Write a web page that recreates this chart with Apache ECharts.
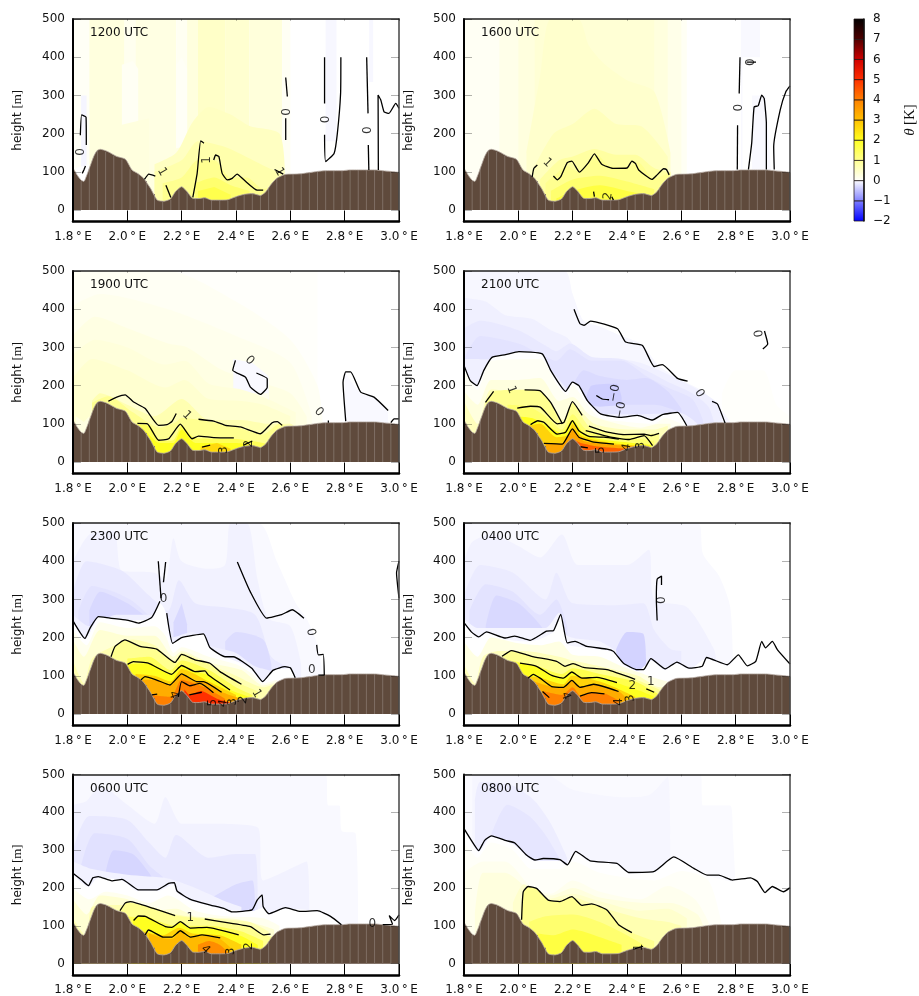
<!DOCTYPE html>
<html><head><meta charset="utf-8">
<script src="https://cdn.jsdelivr.net/npm/echarts@6/dist/echarts.min.js"></script>
<style>html,body{margin:0;padding:0;background:#fff}#c{width:919px;height:996px}</style>
</head><body><div id="c"></div>
<script>
const lonTicks=[1.8,2.0,2.2,2.4,2.6,2.8,3.0];
const heightTicks=[0,100,200,300,400,500];
const thetaTicks=[-2,-1,0,1,2,3,4,5,6,7,8];
const thetaColors=['#0000ff','#8080ff','#ffffff','#ffff90','#ffff20','#ffc000','#ff8000','#ff3000','#d00000','#500000','#000000'];
const stripeLon=[1.80,1.83,1.86,1.89,1.92,1.95,1.98,2.01,2.04,2.07,2.10,2.13,2.16,2.19,2.22,2.25,2.28,2.31,2.34,2.37,2.40,2.43,2.46,2.49,2.52,2.55,2.58,2.61,2.64,2.67,2.70,2.73,2.76,2.79,2.82,2.85,2.88,2.91,2.94,2.97,3.00];
const stripeH=[108,76,108,155,152,142,132,107,94,76,42,22,26,54,46,29,30,25,25,25,34,40,42,37,55,81,91,93,94,97,100,102,102,102,104,104,104,104,102,100,98];
const terrainLon=[1.8,1.815,1.83,1.84,1.85,1.858,1.876,1.888,1.9,1.925,1.962,1.993,2.017,2.04,2.06,2.085,2.11,2.134,2.159,2.177,2.2,2.22,2.24,2.26,2.285,2.31,2.34,2.37,2.4,2.43,2.46,2.49,2.51,2.53,2.55,2.58,2.61,2.64,2.67,2.7,2.73,2.76,2.79,2.82,2.85,2.88,2.91,2.94,2.97,3];
const terrainH=[110,92,78,75,90,105,140,155,159,154,140,133,105,95,83,57,26,23,29,48,61,48,31,30,32,26,26,27,35,41,43,38,48,68,83,93,94,95,98,101,103,103,103,105,105,105,105,103,101,99];

const bands1200=[[0.08,[[1.8,500],[1.86,500]]],[0.3,[[1.86,500],[1.99,500]]],[0.14,[[1.99,500],[2.03,500]]],[0.25,[[2.03,500],[2.18,500]]],[0.12,[[2.18,500],[2.22,500]]],[0.3,[[2.22,500],[2.26,500]]],[0.5,[[2.26,500],[2.36,500]]],[0.42,[[2.36,500],[2.45,500]]],[0.32,[[2.45,500],[2.57,500]]],[0.1,[[2.57,500],[2.6,500]]],
[0.1,[[1.98,380],[2.02,390],[2.04,370]]],[0.3,[[1.96,220],[2.08,240]]],[0.08,[[2.18,380],[2.2,400],[2.22,370]]],[0.25,[[2.17,160],[2.23,170]]],
[-0.08,[[1.83,300],[1.85,300]]],[0,[[1.81,110],[1.84,115],[1.86,120]]],[-0.06,[[2.73,500],[2.77,500]]],[0,[[2.72,180],[2.79,180]]],[-0.06,[[2.89,500],[2.905,500]]],[0,[[2.885,335],[2.91,335]]],
[0.55,[[2.1,120],[2.18,150],[2.24,230],[2.3,270],[2.38,250],[2.45,220],[2.56,200],[2.58,100]]],[0.75,[[2.1,100],[2.2,130],[2.26,180],[2.36,165],[2.45,135],[2.52,110],[2.57,95]]],[1,[[2.13,70],[2.2,85],[2.26,130],[2.32,130],[2.38,85],[2.44,85],[2.5,55],[2.54,60]]],[1.3,[[2.25,70],[2.32,85],[2.38,65],[2.45,50]]],[1.6,[[2.26,50],[2.32,60],[2.38,40]]]];
const lines1200=[[[1.827,196],[1.832,249],[1.848,243],[1.849,170]],[[1.846,115],[1.84,105],[1.834,96]],[[2.063,80],[2.079,94],[2.103,89]],[[2.142,65],[2.16,33]],[[2.241,33],[2.257,96],[2.27,181],[2.282,175]],[[2.318,131],[2.325,144],[2.337,140],[2.349,96],[2.368,79],[2.386,83],[2.404,94],[2.429,79],[2.478,52],[2.5,52]],[[2.542,106],[2.574,94]],[[2.583,347],[2.589,297]],[[2.583,240],[2.583,183]],[[2.726,400],[2.726,279]],[[2.726,197],[2.73,127],[2.761,148],[2.773,200],[2.785,305],[2.786,400]],[[2.881,400],[2.886,253]],[[2.887,170],[2.889,105]],[[2.924,105],[2.923,301],[2.933,288],[2.945,257],[2.963,253],[2.988,279],[3,266]]];
const labels1200=[['0',1.83,152,90],['1',2.128,100,-60],['1',2.294,131,90],['1',2.56,100,-60],['0',2.589,257,90],['0',2.73,237,90],['0',2.886,209,90]];

const bands1600=[[0.1,[[1.8,500],[2.62,500]]],[0.2,[[1.93,500],[2.6,500]]],[0.3,[[2.0,500],[2.55,500]]],[0.38,[[2.06,500],[2.5,500]]],[0.45,[[2.03,150],[2.08,350],[2.12,500],[2.22,500],[2.26,430],[2.32,380],[2.4,340],[2.5,310],[2.56,150]]],[0.6,[[2.05,100],[2.13,200],[2.2,225],[2.28,265],[2.36,225],[2.45,220],[2.55,140]]],[0.85,[[2.08,80],[2.15,130],[2.2,140],[2.28,160],[2.36,145],[2.43,145],[2.5,110],[2.55,100]]],[1,[[2.1,70],[2.14,95],[2.18,115],[2.22,100],[2.29,145],[2.33,118],[2.4,110],[2.44,125],[2.5,82],[2.56,100]]],[1.3,[[2.12,50],[2.2,80],[2.3,90],[2.4,75],[2.5,55]]],[1.7,[[2.14,30],[2.2,50],[2.3,65],[2.4,50],[2.47,40]]],
[-0.05,[[2.82,500],[2.89,500]]],[0,[[2.825,400],[2.89,400]]],[-0.05,[[2.86,300],[2.91,300],[2.93,100]]]];
const lines1600=[[[2.051,87],[2.057,109],[2.07,118]],[[2.129,89],[2.144,79],[2.156,87],[2.18,124],[2.197,128],[2.225,99],[2.258,124],[2.28,147],[2.307,120],[2.348,109],[2.4,110],[2.418,128],[2.431,122],[2.443,105],[2.492,80],[2.511,92],[2.535,108],[2.545,106],[2.555,92]],[[2.277,48],[2.28,35]],[[2.344,35],[2.35,26]],[[2.816,400],[2.813,305]],[[2.807,222],[2.806,106]],[[2.84,387],[2.875,387]],[[2.847,106],[2.859,175],[2.868,270],[2.883,273],[2.896,301],[2.905,292],[2.913,227],[2.913,106]],[[2.942,106],[2.94,166],[2.964,262],[2.985,310],[3,325]]];
const labels1600=[['1',2.107,124,-45],['2',2.33,36,80],['0',2.81,268,90],['0',2.855,387,90]];

const bands1900=[[0.04,[[1.8,500],[2.7,500]]],[0.1,[[1.8,500],[2.15,500],[2.4,420],[2.6,320],[2.7,200],[2.72,100]]],[0.16,[[1.8,410],[1.9,440],[2.15,400],[2.4,330],[2.6,260],[2.68,120]]],[0.25,[[1.8,330],[1.88,380],[2,350],[2.15,310],[2.22,300],[2.35,240],[2.48,210],[2.6,180],[2.66,120]]],
[-0.05,[[2.39,270],[2.46,260],[2.52,225]]],[0.15,[[2.39,180],[2.52,180]]],[-0.05,[[2.8,235],[2.86,180],[2.92,165],[2.96,130]]],
[0.32,[[1.8,280],[1.88,320],[2,300],[2.14,255],[2.21,265],[2.3,205],[2.42,190],[2.5,170],[2.62,130]]],[0.42,[[1.8,220],[1.87,270],[2,240],[2.14,195],[2.21,215],[2.3,165],[2.42,160],[2.5,150],[2.6,120]]],[0.25,[[1.81,120],[1.84,105],[1.86,120]]],[0.7,[[1.87,160],[1.9,180],[2,150],[2.1,120],[2.2,165],[2.3,110],[2.42,110],[2.52,100],[2.6,100],[2.62,90]]],[1,[[1.87,155],[1.93,172],[2.02,130],[2.12,90],[2.18,105],[2.2,115],[2.27,110],[2.4,92],[2.5,72],[2.56,100],[2.6,90]]],[1.5,[[1.95,100],[2.08,95],[2.12,55],[2.17,58],[2.2,95],[2.25,62],[2.4,60],[2.5,50],[2.54,45]]],[2,[[1.95,100],[2.05,90],[2.12,50],[2.17,50],[2.2,85],[2.25,50],[2.4,50],[2.48,40]]],[2.6,[[2.27,40],[2.33,50],[2.38,35]]]];
const lines1900=[[[1.93,159],[1.961,170],[1.992,176],[2.023,157],[2.066,140],[2.115,96],[2.146,98],[2.164,106],[2.18,127]],[[2.262,112],[2.318,107],[2.361,96],[2.416,92],[2.49,74],[2.533,103],[2.552,106],[2.57,96]],[[2.037,101],[2.074,100],[2.115,57],[2.152,61],[2.195,99],[2.238,61],[2.262,68],[2.318,64],[2.392,63]],[[2.43,45],[2.46,55]],[[2.275,39],[2.305,44]],[[2.398,266],[2.388,240],[2.435,222],[2.453,196],[2.49,177],[2.515,196],[2.515,218],[2.475,233]],[[2.74,109],[2.74,103]],[[2.804,107],[2.794,209],[2.804,236],[2.822,236],[2.859,183],[2.908,170],[2.96,135]],[[2.97,103],[2.982,113],[3,113]]];
const labels1900=[['1',2.219,122,-45],['2',2.447,48,90],['3',2.357,31,90],['0',2.45,266,-45],['0',2.705,131,-45]];

const bands2100=[[0.04,[[2.75,180],[2.8,240],[2.9,240],[2.95,150],[3,120]]],[-0.06,[[1.8,500],[2.17,500],[2.2,440],[2.24,370],[2.3,355],[2.38,330],[2.45,310],[2.52,250],[2.6,215],[2.68,185],[2.76,125],[2.78,105]]],[-0.12,[[1.8,430],[1.88,420],[1.95,385],[2.05,375],[2.12,345],[2.18,325],[2.25,270],[2.36,270],[2.45,260],[2.55,230],[2.66,190],[2.74,150],[2.75,110]]],[-0.17,[[1.8,350],[1.86,370],[2,345],[2.1,305],[2.14,290],[2.19,310],[2.27,275],[2.38,270],[2.47,240],[2.55,210],[2.64,180],[2.7,145],[2.72,105]]],[-0.22,[[1.8,270],[1.86,330],[2,310],[2.1,275],[2.14,265],[2.19,295],[2.27,265],[2.38,265],[2.47,225],[2.55,195],[2.64,165],[2.68,110]]],[-0.28,[[2.2,200],[2.24,240],[2.3,225],[2.4,215],[2.47,220],[2.55,185],[2.6,140]]],[-0.38,[[2.25,170],[2.27,200],[2.36,205],[2.38,170]]],[-0.22,[[2.24,150],[2.3,145],[2.4,150],[2.5,150],[2.6,130],[2.65,110]]],[-0.12,[[1.8,270],[2.08,260],[2.18,190],[2.24,130],[2.4,125],[2.6,128],[2.66,100]]],
[0,[[1.8,253],[1.823,213],[1.848,200],[1.873,240],[1.903,274],[1.953,281],[2.002,289],[2.088,283],[2.119,240],[2.174,185],[2.199,209],[2.223,200],[2.254,161],[2.303,126],[2.377,117],[2.438,122],[2.494,110],[2.53,124],[2.586,130],[2.62,95]]],[0.1,[[1.8,240],[1.85,190],[1.9,265],[2.08,270],[2.14,205],[2.18,175],[2.2,200],[2.25,155],[2.3,115],[2.4,105],[2.5,100],[2.54,115],[2.6,100]]],[0.3,[[1.8,185],[1.85,150],[1.9,215],[2,215],[2.08,220],[2.15,160],[2.2,170],[2.26,125],[2.34,105],[2.45,90],[2.52,100],[2.56,100]]],[0.6,[[1.8,160],[1.85,100],[1.9,190],[2,180],[2.1,150],[2.17,110],[2.2,150],[2.28,100],[2.4,85],[2.5,85],[2.55,95]]],[1,[[1.879,156],[1.909,185],[2.023,189],[2.079,187],[2.119,156],[2.162,100],[2.199,156],[2.235,117],[2.26,94],[2.328,78],[2.389,72],[2.463,73],[2.518,75]]],[1.3,[[1.96,150],[2.04,145],[2.1,120],[2.16,85],[2.2,125],[2.25,85],[2.35,65],[2.45,60],[2.5,55]]],[2,[[1.98,120],[2.05,115],[2.12,90],[2.16,75],[2.2,110],[2.24,75],[2.3,60],[2.42,50],[2.49,45]]],[2.7,[[2.04,95],[2.08,100],[2.14,65],[2.18,70],[2.2,100],[2.23,70],[2.3,55],[2.4,45],[2.48,42]]],[3.4,[[2.1,50],[2.16,48],[2.2,85],[2.24,55],[2.35,45],[2.44,40]]],[4.4,[[2.2,60],[2.23,50],[2.3,40],[2.4,35]]]];
const lines2100=[[[1.8,253],[1.823,213],[1.848,200],[1.873,240],[1.903,274],[1.953,281],[2.002,289],[2.088,283],[2.119,240],[2.174,185],[2.199,209],[2.223,200],[2.254,161],[2.303,126],[2.377,117],[2.438,122],[2.494,110],[2.53,124],[2.586,130],[2.62,95]],[[1.879,156],[1.909,185]],[[2.023,189],[2.079,187],[2.119,156],[2.162,100]],[[1.996,141],[2.045,146],[2.082,143],[2.143,100],[2.168,104],[2.199,158],[2.235,122]],[[2.045,98],[2.072,108],[2.094,104],[2.143,73],[2.174,78],[2.199,108],[2.223,82],[2.26,67],[2.315,65],[2.37,60]],[[2.094,49],[2.162,47],[2.199,87],[2.223,65],[2.278,52],[2.352,47]],[[2.26,94],[2.328,78],[2.389,72],[2.463,73],[2.488,69],[2.518,75]],[[2.248,82],[2.34,65],[2.408,59],[2.463,69],[2.494,43]],[[2.229,40],[2.256,37]],[[2.287,174],[2.309,165],[2.334,163]],[[2.205,400],[2.227,362],[2.242,358],[2.266,369],[2.365,349],[2.395,314],[2.457,305],[2.5,250],[2.53,255],[2.586,219],[2.623,212]],[[2.713,159],[2.733,152],[2.761,102]],[[2.906,343],[2.918,309],[2.9,296]]];
const labels2100=[['1',1.975,189,-70],['5',2.305,31,90],['4',2.399,38,80],['3',2.45,43,90],['−0',2.355,180,80],['−0',2.377,135,80],['0',2.666,180,-60],['0',2.887,337,100]];

const bands2300=[[-0.05,[[1.8,500],[2.48,500],[2.55,400],[2.62,290],[2.66,250],[2.7,180],[2.72,100]]],[-0.1,[[1.8,400],[1.86,470],[1.95,480],[1.98,375],[2.1,370],[2.14,350],[2.17,460],[2.2,400],[2.3,380],[2.36,390],[2.38,500],[2.44,500],[2.48,350],[2.52,250],[2.6,230],[2.64,130]]],[-0.17,[[1.8,320],[1.85,400],[1.98,375],[2.08,310],[2.15,270],[2.19,350],[2.25,290],[2.35,280],[2.47,260],[2.53,150],[2.6,120]]],[-0.22,[[1.82,270],[1.87,335],[1.95,320],[2.02,295],[2.09,250]]],[-0.3,[[1.86,270],[1.9,320],[2,290],[2.05,265],[2.09,240]]],[-0.3,[[2.17,240],[2.2,290],[2.22,235]]],[-0.27,[[2.36,190],[2.4,215],[2.5,195],[2.53,130]]],[-0.12,[[1.8,260],[1.86,230],[1.96,260],[2.1,260],[2.16,200],[2.24,215],[2.3,180],[2.4,160],[2.47,125],[2.55,110]]],
[0,[[1.8,240],[1.845,195],[1.9,255],[2,245],[2.09,250],[2.12,290],[2.14,270],[2.165,185],[2.2,200],[2.28,210],[2.3,175],[2.36,150],[2.45,122],[2.5,85],[2.54,115],[2.6,120],[2.62,95]]],[0.15,[[1.8,220],[1.85,180],[1.9,240],[2,225],[2.1,230],[2.14,205],[2.17,160],[2.2,175],[2.3,150],[2.4,130],[2.46,105],[2.5,80],[2.55,90]]],[0.4,[[1.8,195],[1.84,150],[1.9,220],[2,205],[2.1,205],[2.17,150],[2.2,165],[2.3,135],[2.42,115],[2.5,75],[2.56,85]]],[0.7,[[1.8,140],[1.84,80],[1.87,145],[1.94,175],[2.02,195],[2.1,180],[2.17,140],[2.2,160],[2.3,130],[2.4,100],[2.5,70],[2.55,80]]],[1,[[1.94,150],[1.96,178],[1.99,194],[2.05,177],[2.11,170],[2.175,135],[2.2,156],[2.25,142],[2.3,133],[2.34,111],[2.42,78],[2.48,60]]],[1.5,[[2,145],[2.08,150],[2.16,115],[2.2,140],[2.3,115],[2.4,70],[2.46,50]]],[2,[[2,130],[2.08,133],[2.163,104],[2.2,127],[2.25,111],[2.3,102],[2.38,63],[2.45,45]]],[2.7,[[2.03,105],[2.1,100],[2.16,85],[2.2,118],[2.3,85],[2.4,50]]],[3.3,[[2.05,90],[2.11,89],[2.157,76],[2.2,105],[2.255,85],[2.28,85],[2.35,57],[2.42,40]]],[4,[[2.09,50],[2.16,45],[2.2,90],[2.25,80],[2.3,65],[2.36,40]]],[5,[[2.21,65],[2.23,50],[2.27,60],[2.33,40],[2.38,30]]]];
const lines2300=[[[1.8,244],[1.844,198],[1.863,225],[1.893,255],[1.936,251],[1.998,246],[2.04,238],[2.09,253],[2.12,295]],[[2.114,400],[2.124,303]],[[2.141,398],[2.133,345]],[[2.145,264],[2.167,185],[2.2,200],[2.28,210],[2.304,174],[2.36,150],[2.39,150],[2.458,120],[2.498,85],[2.537,115],[2.58,124],[2.6,121],[2.618,95]],[[2.405,398],[2.452,321],[2.513,251],[2.568,260],[2.607,273],[2.65,251]],[[2.697,181],[2.703,155],[2.721,156],[2.725,102],[2.703,102]],[[3,400],[2.991,369],[3,303]],[[1.94,150],[1.955,177],[1.991,194],[2.047,177],[2.108,170],[2.175,135],[2.2,156],[2.249,142],[2.304,133],[2.341,111],[2.42,78]],[[2.001,130],[2.022,137],[2.077,133],[2.163,104],[2.2,127],[2.249,111],[2.286,113],[2.298,102],[2.378,63]],[[2.05,89],[2.065,98],[2.108,89],[2.157,76],[2.2,105],[2.255,85],[2.28,85],[2.347,57]],[[2.09,50],[2.11,52]],[[2.188,45],[2.2,85],[2.23,74],[2.267,80],[2.317,56]],[[2.228,50],[2.274,57]]];
const labels2300=[['0',2.133,301,0],['0',2.675,214,-80],['0',2.679,115,0],['4',2.169,50,-70],['5',2.316,30,90],['4',2.353,28,80],['3',2.39,32,90],['2',2.427,37,80],['1',2.476,54,-60]];

const bands0400=[[-0.05,[[1.8,500],[2.66,500],[2.68,418],[2.74,360],[2.78,280],[2.79,130]]],[-0.1,[[1.8,400],[1.83,450],[1.9,470],[2,440],[2.08,410],[2.16,470],[2.22,390],[2.4,390],[2.48,430],[2.5,300],[2.62,280],[2.72,170],[2.73,130]]],[-0.16,[[1.8,310],[1.86,390],[1.98,370],[2.1,300],[2.14,370],[2.2,290],[2.36,285],[2.46,290],[2.5,220],[2.56,170],[2.6,165]]],[-0.22,[[1.82,270],[1.88,340],[1.98,320],[2.08,260],[2.14,300],[2.18,230]]],[-0.3,[[1.88,230],[1.92,310],[2,290],[2.06,250],[2.1,215]]],[-0.35,[[2.36,170],[2.4,215],[2.46,210],[2.47,130]]],[-0.08,[[1.8,250],[1.85,225],[2,225],[2.1,225],[2.15,265],[2.18,205],[2.3,190],[2.36,165]]],
[0,[[1.8,235],[1.854,198],[1.883,212],[1.95,196],[2.04,190],[2.13,215],[2.156,255],[2.18,183],[2.25,174],[2.35,161],[2.39,130],[2.44,113],[2.49,140],[2.54,115],[2.58,133],[2.63,117],[2.69,145],[2.77,126],[2.81,152],[2.84,123],[2.87,135],[2.9,187],[2.91,170],[2.935,187],[2.95,165],[3,128]]],[0.25,[[1.8,190],[1.85,150],[1.9,200],[2,185],[2.08,180],[2.15,190],[2.2,155],[2.3,150],[2.38,125],[2.44,110],[2.5,95],[2.55,85]]],[0.6,[[1.8,130],[1.84,80],[1.87,150],[1.93,165],[2.02,165],[2.15,150],[2.2,140],[2.3,125],[2.44,100],[2.52,70],[2.56,70]]],[1,[[1.94,151],[1.975,166],[2.05,151],[2.14,138],[2.172,125],[2.2,132],[2.24,122],[2.33,116],[2.43,91],[2.5,70],[2.53,60]]],[1.6,[[1.97,140],[2.07,125],[2.16,105],[2.2,120],[2.3,105],[2.43,85],[2.52,50]]],[2,[[2,133],[2.07,125],[2.123,101],[2.166,94],[2.197,110],[2.234,94],[2.29,96],[2.36,82],[2.45,60],[2.5,45]]],[2.7,[[2.03,100],[2.08,95],[2.166,78],[2.197,100],[2.3,85],[2.37,65],[2.43,45]]],[3.3,[[2.04,90],[2.12,72],[2.166,70],[2.197,88],[2.23,70],[2.28,78],[2.37,59],[2.4,40]]],[4,[[2.09,60],[2.16,50],[2.2,70],[2.23,47],[2.27,56],[2.32,53],[2.37,35]]]];
const lines0400=[[[1.8,239],[1.827,215],[1.854,202],[1.883,215],[1.95,199],[1.987,204],[2.043,193],[2.104,217],[2.129,218],[2.156,261],[2.18,186],[2.209,190],[2.252,177],[2.326,170],[2.35,164],[2.387,133],[2.437,116],[2.461,116],[2.488,145],[2.541,118],[2.584,136],[2.628,120],[2.677,125],[2.693,148],[2.769,129],[2.81,155],[2.843,126],[2.874,138],[2.896,190],[2.91,173],[2.935,190],[2.954,168],[3,131]],[[1.94,151],[1.975,166],[2.049,151],[2.141,138],[2.172,125],[2.202,132],[2.24,122],[2.326,116],[2.43,91]],[[2.006,133],[2.067,125],[2.123,101],[2.166,94],[2.197,110],[2.234,94],[2.289,96],[2.363,82]],[[2.036,94],[2.055,104],[2.08,94],[2.123,72],[2.166,70],[2.197,88],[2.227,70],[2.277,78],[2.369,59]],[[2.089,59],[2.114,43]],[[2.227,47],[2.27,56],[2.317,53]],[[2.471,66],[2.5,57]],[[2.527,338],[2.527,361],[2.511,353],[2.508,300],[2.511,245]]];
const labels0400=[['4',2.174,47,-70],['4',2.369,32,90],['3',2.412,41,100],['2',2.42,74,0],['1',2.488,83,0],['0',2.527,298,90]];

const bands0600=[[-0.05,[[1.8,500],[2.73,500],[2.74,418],[2.78,418],[2.79,350],[2.84,345],[2.85,100]]],[-0.1,[[1.8,420],[1.85,430],[1.9,470],[2,420],[2.1,370],[2.14,440],[2.2,370],[2.3,370],[2.48,360],[2.5,220],[2.66,270],[2.67,150]]],[-0.17,[[1.8,300],[1.86,390],[2,380],[2.08,320],[2.14,280],[2.18,340],[2.3,280],[2.4,290],[2.47,290],[2.48,170]]],[-0.24,[[1.83,260],[1.88,345],[2,330],[2.08,260],[2.13,230]]],[-0.32,[[1.92,240],[1.95,300],[2.02,290],[2.08,240],[2.1,215]]],[-0.28,[[2.3,170],[2.4,210],[2.46,220],[2.47,150]]],[-0.1,[[1.8,270],[1.87,250],[2,235],[2.15,225],[2.25,200],[2.36,165],[2.42,150]]],
[0,[[1.8,235],[1.857,203],[1.893,227],[1.98,220],[2.04,192],[2.11,192],[2.17,210],[2.18,189],[2.23,167],[2.36,143],[2.46,139],[2.5,148],[2.52,129],[2.58,145],[2.7,137],[2.79,103]]],[0.15,[[1.8,200],[1.86,170],[1.92,190],[2,180],[2.08,160],[2.15,180],[2.25,140],[2.36,125],[2.5,120],[2.56,100]]],[0.4,[[1.8,170],[1.85,130],[1.9,180],[2,170],[2.1,140],[2.18,145],[2.25,125],[2.4,118],[2.5,100],[2.54,90]]],[0.7,[[1.8,120],[1.85,70],[1.87,150],[1.95,155],[2.05,155],[2.18,130],[2.3,120],[2.45,110],[2.52,85]]],[1,[[1.97,140],[2,162],[2.1,146],[2.176,127],[2.28,118],[2.36,110],[2.45,98],[2.5,76],[2.55,70]]],[1.5,[[2,125],[2.1,115],[2.18,100],[2.3,100],[2.42,85],[2.5,60]]],[2,[[2.02,114],[2.04,126],[2.07,125],[2.14,98],[2.165,96],[2.195,111],[2.23,94],[2.29,96],[2.41,76],[2.48,50]]],[2.7,[[2.06,85],[2.13,75],[2.19,95],[2.24,80],[2.34,75],[2.42,50]]],[3.1,[[2.08,80],[2.13,68],[2.165,65],[2.195,85],[2.23,68],[2.28,73],[2.34,66],[2.38,42]]],[3.8,[[2.26,50],[2.3,60],[2.34,50],[2.37,30]]]];
const lines0600=[[[1.8,239],[1.832,221],[1.857,206],[1.873,227],[1.893,230],[1.943,219],[1.98,223],[2.041,195],[2.109,195],[2.152,212],[2.173,214],[2.183,192],[2.232,170],[2.306,155],[2.355,146],[2.385,137],[2.459,142],[2.478,168],[2.496,182],[2.5,151],[2.521,132],[2.582,148],[2.638,138],[2.699,140],[2.748,125],[2.788,103]],[[1.973,140],[1.992,160],[2.01,164],[2.096,146],[2.176,127]],[[2.285,118],[2.355,110],[2.453,98],[2.502,76],[2.527,78]],[[2.023,114],[2.041,126],[2.066,125],[2.14,98],[2.164,96],[2.195,111],[2.232,94],[2.293,96],[2.41,76]],[[2.066,76],[2.078,89],[2.133,70],[2.164,70],[2.195,87],[2.232,70],[2.275,76],[2.342,68]],[[2.94,103],[2.976,104],[2.964,127],[2.984,114],[3,129]]];
const labels0600=[['1',2.232,122,0],['4',2.287,37,-45],['3',2.38,32,90],['2',2.449,46,90],['0',2.902,104,0]];

const bands0800=[[-0.04,[[1.8,500],[2.67,500],[2.68,418],[2.78,418],[2.79,340],[2.8,200]]],[-0.07,[[1.83,500],[2.1,500],[2.2,460],[2.4,440],[2.48,445],[2.55,495],[2.56,280]]],[-0.14,[[1.84,430],[1.86,480],[1.98,470],[2.06,430],[2.12,370],[2.18,280]]],[-0.2,[[1.9,340],[1.96,420],[2.04,390],[2.1,340],[2.15,280]]],
[0,[[1.8,355],[1.854,296],[1.9,335],[1.98,316],[2.06,272],[2.15,272],[2.18,258],[2.21,294],[2.26,270],[2.36,262],[2.41,238],[2.5,240],[2.57,280],[2.65,250],[2.7,232],[2.79,218],[2.86,225],[2.91,186],[2.98,188],[3,198]]],[0.06,[[1.8,320],[1.85,280],[1.9,320],[1.98,300],[2.05,250],[2.15,250],[2.2,270],[2.3,240],[2.42,225],[2.5,220],[2.6,245],[2.7,220],[2.75,100]]],[0.15,[[1.8,240],[1.87,270],[1.95,270],[2.05,200],[2.12,185],[2.2,220],[2.3,190],[2.45,170],[2.55,205],[2.65,170],[2.7,110]]],[0.3,[[1.84,130],[1.87,240],[1.95,240],[2.05,190],[2.12,180],[2.2,200],[2.3,175],[2.48,160],[2.56,160],[2.66,130],[2.68,100]]],[0.45,[[1.98,160],[2.02,210],[2.1,170],[2.2,185],[2.3,165],[2.45,140],[2.55,145],[2.62,120]]],[0.7,[[2.01,130],[2.02,190],[2.05,200],[2.11,165],[2.2,175],[2.3,150],[2.45,120],[2.55,110],[2.6,100]]],[1,[[2.012,116],[2.018,190],[2.036,204],[2.067,199],[2.11,168],[2.153,164],[2.197,177],[2.234,154],[2.27,158],[2.326,142],[2.369,103],[2.418,82],[2.5,60]]],[1.3,[[2.04,110],[2.1,125],[2.2,130],[2.3,110],[2.4,75],[2.46,50]]],[1.7,[[2.07,80],[2.13,75],[2.2,90],[2.3,70],[2.38,50]]]];
const lines0800=[[[1.8,357],[1.827,326],[1.854,299],[1.876,326],[1.901,338],[1.956,325],[1.987,319],[2.03,287],[2.061,274],[2.092,278],[2.153,275],[2.181,261],[2.211,297],[2.264,272],[2.363,265],[2.406,241],[2.498,243],[2.572,282],[2.646,252],[2.695,234],[2.738,234],[2.788,221],[2.855,227],[2.88,217],[2.908,188],[2.935,204],[2.976,190],[3,201]],[[2.012,116],[2.018,190],[2.036,204],[2.067,199],[2.11,168],[2.153,164],[2.197,177],[2.234,154],[2.27,158],[2.326,142],[2.369,103],[2.418,82]],[[2.428,39],[2.459,46]]];
const labels0800=[['1',2.442,43,90]];

const panels=[
 {title:'1200 UTC',bands:bands1200,lines:lines1200,labels:labels1200},
 {title:'1600 UTC',bands:bands1600,lines:lines1600,labels:labels1600},
 {title:'1900 UTC',bands:bands1900,lines:lines1900,labels:labels1900},
 {title:'2100 UTC',bands:bands2100,lines:lines2100,labels:labels2100},
 {title:'2300 UTC',bands:bands2300,lines:lines2300,labels:labels2300},
 {title:'0400 UTC',bands:bands0400,lines:lines0400,labels:labels0400},
 {title:'0600 UTC',bands:bands0600,lines:lines0600,labels:labels0600},
 {title:'0800 UTC',bands:bands0800,lines:lines0800,labels:labels0800}];

function hex(c){return [1,3,5].map(i=>parseInt(c.slice(i,i+2),16));}
function colourOf(v){
  let i=Math.min(thetaTicks.length-2,Math.max(0,Math.floor(v-thetaTicks[0])));
  const f=v-thetaTicks[i],a=hex(thetaColors[i]),b=hex(thetaColors[i+1]);
  return 'rgb('+a.map((x,k)=>Math.round(x+(b[k]-x)*f)).join(',')+')';
}
const FONT='DejaVu Sans';
const colLeft=[73,464],rowTop=[19,271,523,774.5];
const grids=[],xAxes=[],yAxes=[],series=[],titles=[];
panels.forEach((p,i)=>{
  const left=colLeft[i%2],top=rowTop[i>>1];
  const xi=2*i;
  grids.push({left,top,width:326,height:202.5,containLabel:false});
  titles.push({text:p.title,left:left+17,top:top+8,padding:0,textStyle:{fontFamily:FONT,fontSize:12,fontWeight:'normal',color:'#111'}});
  xAxes.push({gridIndex:i,type:'value',position:'bottom',min:1.8,max:3,z:10,
    axisLine:{onZero:false,lineStyle:{color:'#000',width:2.5}},
    axisTick:{inside:true,length:11,customValues:lonTicks,lineStyle:{color:'#000',width:1}},
    axisLabel:{customValues:lonTicks,margin:9,fontFamily:FONT,fontSize:12,color:'#111',hideOverlap:false,showMinLabel:true,showMaxLabel:true,formatter:v=>v.toFixed(1)+'\u2009°\u2009E'},
    splitLine:{show:false}});
  xAxes.push({gridIndex:i,type:'value',position:'top',min:1.8,max:3,z:10,
    axisLine:{onZero:false,lineStyle:{color:'#222',width:1.5}},
    axisTick:{inside:true,length:2,customValues:lonTicks,lineStyle:{color:'rgba(0,0,0,.25)'}},
    axisLabel:{show:false},splitLine:{show:false}});
  yAxes.push({gridIndex:i,type:'value',position:'left',min:-30,max:500,z:10,
    name:'height {b|[m]}',nameLocation:'middle',nameGap:49,nameRotate:90,
    nameTextStyle:{fontFamily:FONT,fontSize:12,color:'#111',rich:{b:{fontFamily:'Liberation Serif',fontSize:13,color:'#111'}}},
    axisLine:{onZero:false,lineStyle:{color:'#000',width:2}},
    axisTick:{inside:true,length:8,customValues:heightTicks,lineStyle:{color:'rgba(0,0,0,.3)'}},
    axisLabel:{customValues:heightTicks,margin:8,fontFamily:FONT,fontSize:12,color:'#111'},
    splitLine:{show:false}});
  yAxes.push({gridIndex:i,type:'value',position:'right',min:-30,max:500,z:10,
    axisLine:{onZero:false,lineStyle:{color:'#444',width:1.5}},
    axisTick:{inside:true,length:8,customValues:heightTicks,lineStyle:{color:'rgba(0,0,0,.3)'}},
    axisLabel:{show:false},splitLine:{show:false}});
  p.bands.forEach(([lv,pts])=>{
    series.push({type:'line',xAxisIndex:xi,yAxisIndex:xi,data:pts,symbol:'none',silent:true,z:2,
      smooth:pts.length>3?0.25:false,lineStyle:{width:0},areaStyle:{color:colourOf(lv),opacity:1}});
  });
  series.push({type:'line',xAxisIndex:xi,yAxisIndex:xi,data:terrainLon.map((x,k)=>[x,terrainH[k]]),symbol:'none',silent:true,z:3,
    smooth:0.2,lineStyle:{color:'#b5aaa2',width:0.8},areaStyle:{color:'#5f4a3c',opacity:1}});
  series.push({type:'bar',xAxisIndex:xi,yAxisIndex:xi,data:stripeLon.map((x,k)=>[x,stripeH[k]]),barWidth:1,silent:true,z:3,
    itemStyle:{color:'#7f6f64'}});
  p.lines.forEach(pts=>{
    series.push({type:'line',xAxisIndex:xi,yAxisIndex:xi,data:pts,symbol:'none',silent:true,z:4,smooth:0.15,
      lineStyle:{color:'#000',width:1.3}});
  });
  series.push({type:'scatter',xAxisIndex:xi,yAxisIndex:xi,symbolSize:0,silent:true,z:5,
    data:p.labels.map(([t,x,h,r])=>({value:[x,h],label:{show:true,position:'inside',formatter:t,rotate:r,fontFamily:FONT,fontSize:12,color:'#000'}}))});
});
const ci=panels.length;
grids.push({left:854,top:19,width:11,height:202});
xAxes.push({gridIndex:ci,type:'value',min:0,max:1,show:false});
yAxes.push({gridIndex:ci,type:'value',position:'right',min:-2,max:8,interval:1,z:10,
  name:'{i|θ} {s|[K]}',nameLocation:'middle',nameGap:39,nameRotate:90,
  nameTextStyle:{rich:{i:{fontFamily:'Liberation Serif',fontStyle:'italic',fontSize:15,color:'#111'},s:{fontFamily:'Liberation Serif',fontSize:15,color:'#111'}}},
  axisLine:{onZero:false,lineStyle:{color:'#111',width:1.5}},axisTick:{show:false},
  axisLabel:{margin:9,fontFamily:FONT,fontSize:12,color:'#111',formatter:v=>String(v).replace('-','−')},splitLine:{show:false}});
series.push({type:'custom',xAxisIndex:2*ci,yAxisIndex:ci*2,coordinateSystem:'cartesian2d',silent:true,z:3,
  data:thetaTicks.slice(0,-1).map((t,k)=>[t,thetaTicks[k+1]]),
  encode:{y:[0,1]},
  renderItem:(params,api)=>{
    const lo=api.value(0),hi=api.value(1);
    const a=api.coord([0,hi]),b=api.coord([1,lo]);
    const d=thetaColors[params.dataIndex],e=thetaColors[params.dataIndex+1];
    return {type:'rect',shape:{x:a[0],y:a[1],width:b[0]-a[0],height:b[1]-a[1]},
      style:{fill:new echarts.graphic.LinearGradient(0,1,0,0,[{offset:0,color:d},{offset:1,color:e}]),stroke:'rgba(30,20,20,.75)',lineWidth:1}};
  }});
const chart=echarts.init(document.getElementById('c'),null,{renderer:'canvas'});
chart.setOption({animation:false,backgroundColor:'#fff',title:titles,grid:grids,xAxis:xAxes,yAxis:yAxes,series,legend:{show:false},tooltip:{show:false}});
</script></body></html>
